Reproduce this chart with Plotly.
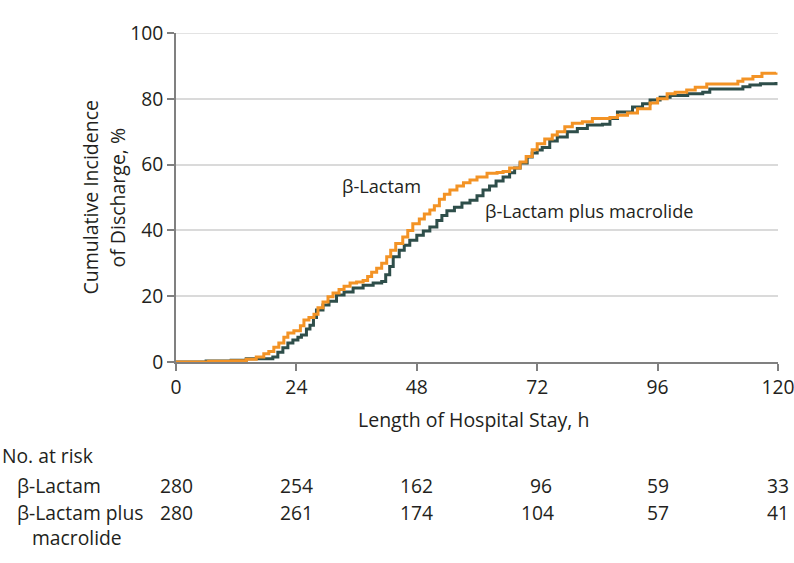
import plotly.graph_objects as go

# ---- data ----
lactam_t = [0, 6.5, 11, 14, 16, 17.5, 18.5, 19.5, 20.5, 21.5, 22.3, 23.5, 24.8, 25.5, 26.5, 27.5,
            28.3, 29.3, 30.3, 31.3, 32.5, 33.5, 34.7, 36, 37.3, 38.2, 39, 40, 41, 42, 42.8, 43.8,
            45.2, 46.2, 47.2, 48.5, 49.5, 50.6, 51.5, 52.5, 53.5, 54.6, 56, 57.3, 58.6, 60, 62,
            64, 65.2, 66.5, 68.6, 69.8, 71, 72, 73.5, 75, 76, 77.5, 79, 81, 83, 86.5, 88, 90,
            92, 94.5, 96, 97.9, 99.5, 101.8, 103.5, 105.8, 112, 113, 115, 116.8, 119.6]
lactam_y = [0, 0.2, 0.4, 0.8, 1.5, 2.5, 3.2, 4.5, 5.8, 7.5, 8.8, 9.5, 11, 12.8, 13.5, 14.5,
            16.5, 18.2, 19.8, 21, 22, 23, 24, 24.3, 24.8, 26, 27.3, 28.5, 30, 32, 34, 36,
            38, 40, 42, 43.5, 45, 46.2, 47.5, 49.5, 51, 52.3, 53.5, 54.5, 55.3, 56.2, 57.4,
            57.6, 57.9, 59, 60.8, 62.5, 64.5, 66.3, 67.8, 69, 70, 71.5, 72.6, 73, 74, 74.3, 75, 75.7,
            77, 78.7, 80, 81.5, 82, 82.7, 83.5, 84.5, 85.3, 86, 86.8, 87.8, 88]

macro_t = [0, 6, 11, 14, 19.3, 20.3, 21.3, 22.3, 23.3, 24.3, 25, 26, 26.7, 27.4, 28, 29.3, 30.5,
           32, 33.5, 35.3, 37.3, 39.3, 41, 41.8, 42.6, 43.3, 44.5, 45.5, 46.6, 48, 49.3, 50.6,
           52, 53, 54, 55.5, 57, 58.6, 60, 61.2, 62.5, 63.8, 65.2, 66.5, 67.5, 68.6, 70, 71, 72,
           73, 74.5, 76, 78, 80, 82, 85, 86.5, 88, 91, 93, 94.5, 96.5, 98.5, 102, 105, 106.4,
           111.8, 113, 114.4, 116.5, 119.6]
macro_y = [0, 0.3, 0.5, 1.0, 1.5, 3, 4.3, 5.8, 6.7, 7.5, 8.2, 10, 11.2, 13.5, 15.8, 17.3, 18.5,
           20.4, 21.3, 22.5, 23.3, 24, 24.5, 26.5, 29, 32, 34, 35.5, 37, 38.5, 39.8, 41,
           43, 44.5, 46, 47, 48.3, 49.2, 50.5, 52.3, 53.5, 55, 56.2, 57.5, 59, 60.5, 62.3, 63.5, 64.4,
           65.2, 67.2, 68.4, 70, 71, 72, 72.3, 74, 76, 77.5, 78.5, 79.6, 80.5, 81, 81.5, 82, 83,
           83, 83.7, 84.2, 84.6, 85.1]

x_ticks = [0, 24, 48, 72, 96, 120]
y_ticks = [0, 20, 40, 60, 80, 100]
risk_lactam = [280, 254, 162, 96, 59, 33]
risk_macro = [280, 261, 174, 104, 57, 41]

ORANGE = "#F39325"
GREEN = "#2E4E4A"
TXT = "#231F20"
FONT = "Open Sans"
FS = 19.3

fig = go.Figure()
fig.add_trace(go.Scatter(x=macro_t, y=macro_y, mode="lines", line=dict(color=GREEN, width=3, shape="hv"),
                         name="β-Lactam plus macrolide", showlegend=False))
fig.add_trace(go.Scatter(x=lactam_t, y=lactam_y, mode="lines", line=dict(color=ORANGE, width=3, shape="hv"),
                         name="β-Lactam", showlegend=False))

fig.update_layout(
    width=794, height=563,
    margin=dict(l=176, r=16, t=33, b=201),
    paper_bgcolor="white", plot_bgcolor="white",
    font=dict(family=FONT, size=FS, color=TXT),
    xaxis=dict(range=[0, 120], tickvals=x_ticks, ticks="outside", ticklen=7, tickcolor="#808080",
               tickwidth=1.5, showline=True, linecolor="#808080", linewidth=1.5, showgrid=False,
               zeroline=False, ticklabeloverflow="allow", automargin=False,
               tickfont=dict(size=FS, family=FONT, color=TXT)),
    yaxis=dict(range=[0, 100], tickvals=y_ticks, ticks="outside", ticklen=7, tickcolor="#808080",
               tickwidth=1.5, showline=True, linecolor="#808080", linewidth=1.5, showgrid=True,
               gridcolor="#DADADA", gridwidth=1.5, zeroline=False, ticklabeloverflow="allow",
               automargin=False, tickfont=dict(size=FS, family=FONT, color=TXT)),
)
# top gridline at 100 (plotly omits the grid line at the range edge)
fig.add_shape(type="line", xref="paper", yref="y", x0=0, x1=1, y0=100, y1=100,
              line=dict(color="#DADADA", width=1.5), layer="below")

ann = []
# axis titles
ann.append(dict(text="Length of Hospital Stay, h", xref="paper", yref="paper", x=0.5, y=0,
                yshift=-57, xshift=-4, showarrow=False, font=dict(size=19.5), xanchor="center", yanchor="middle"))
ann.append(dict(text="Cumulative Incidence", xref="paper", yref="paper", x=0, y=0.5, xshift=-86,
                textangle=-90, showarrow=False, font=dict(size=19.5), xanchor="center", yanchor="middle"))
ann.append(dict(text="of Discharge, %", xref="paper", yref="paper", x=0, y=0.5, xshift=-59,
                textangle=-90, showarrow=False, font=dict(size=19.5), xanchor="center", yanchor="middle"))
# curve labels
ann.append(dict(text="β-Lactam", x=41, y=53.5, xref="x", yref="y", showarrow=False, font=dict(size=18.2)))
ann.append(dict(text="β-Lactam plus macrolide", x=82.5, y=45.9, xref="x", yref="y", showarrow=False,
                font=dict(size=18.2)))

# risk table
def py2paper(py):
    return (362 - py) / 329.0

rows = [("No. at risk", 0, 456), ("β-Lactam", 15, 485), ("β-Lactam plus", 15, 512), ("macrolide", 30, 537)]
for txt, px, py in rows:
    ann.append(dict(text=txt, xref="paper", yref="paper", x=0, xshift=px - 176, y=py2paper(py),
                    xanchor="left", yanchor="middle", showarrow=False, font=dict(size=FS)))
for vals, py in ((risk_lactam, 485), (risk_macro, 512)):
    for t, v in zip(x_ticks, vals):
        a = dict(text=str(v), xref="x", yref="paper", x=t, y=py2paper(py), xanchor="center",
                 yanchor="middle", showarrow=False, font=dict(size=FS))
        if v == 96:
            a.update(xanchor="right", xshift=17)
        ann.append(a)

fig.update_layout(annotations=ann)
fig.write_html("out.html", config={"displayModeBar": False},
               post_script="document.body.style.margin='0';")
